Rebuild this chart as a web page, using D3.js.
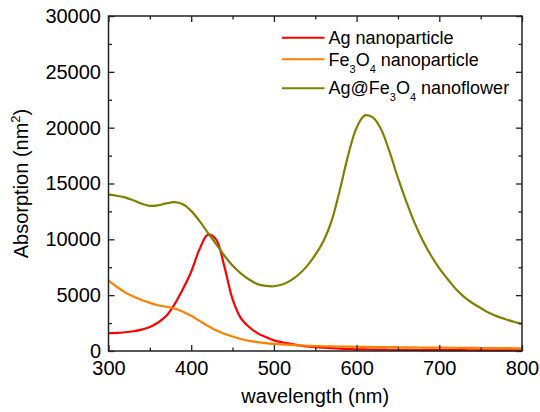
<!DOCTYPE html>
<html>
<head>
<meta charset="utf-8">
<script src="https://cdn.jsdelivr.net/npm/d3@7"></script>
<style>
  body { margin: 0; background: #fff; }
  svg { display: block; font-family: "Liberation Sans", Arial, sans-serif; }
</style>
</head>
<body>
<div id="chart"></div>
<script>
// wavelength grid (nm), 10 nm steps
var wavelength = d3.range(300, 801, 10);

// values (nm^2)
var agValues = [1600, 1620, 1680, 1770, 1920, 2150, 2550, 3150, 4200, 5550,
  7100, 9100, 10400, 10000, 7600, 4650, 2950, 2150, 1600, 1250,
  950, 780, 640, 500, 420, 340, 290, 250, 210, 180,
  150, 140, 130, 120, 110, 100, 95, 90, 85, 80,
  80, 75, 70, 70, 65, 60, 60, 55, 55, 50, 50];
var fe3o4Values = [6300, 5750, 5250, 4870, 4560, 4310, 4100, 3960, 3810, 3520,
  3150, 2700, 2250, 1850, 1550, 1300, 1080, 910, 790, 700,
  630, 580, 550, 510, 470, 440, 420, 410, 400, 390,
  380, 370, 360, 350, 345, 340, 330, 320, 310, 305,
  300, 295, 290, 285, 280, 270, 265, 260, 255, 245, 240];
var flowerValues = [14000, 13900, 13760, 13500, 13200, 13000, 13050, 13220, 13330, 13150,
  12550, 11650, 10600, 9600, 8550, 7650, 6950, 6400, 6000, 5830,
  5800, 5950, 6300, 6850, 7600, 8600, 9850, 11700, 14500, 17600,
  20000, 21100, 20900, 19800, 17800, 15500, 13400, 11500, 9900, 8550,
  7400, 6450, 5550, 4850, 4300, 3850, 3420, 3100, 2850, 2620, 2430];

var seriesNames = ["Ag nanoparticle", "Fe3O4 nanoparticle", "Ag@Fe3O4 nanoflower"];
var seriesColors = ["#ff0000", "#ff8000", "#808000"];

var xTicks = [300, 400, 500, 600, 700, 800];
var yTicks = [0, 5000, 10000, 15000, 20000, 25000, 30000];

function init() {
  var w = 540;
  var h = 412;
  var left = 108.5, right = 522, top = 16, bottom = 351;

  var xScale = d3.scaleLinear().domain([300, 800]).range([left, right]);
  var yScale = d3.scaleLinear().domain([0, 30000]).range([bottom, top]);

  var svg = d3.select("#chart")
    .append("svg")
    .attr("width", w)
    .attr("height", h);

  // curves
  var allValues = [agValues, fe3o4Values, flowerValues];
  var line = d3.line()
    .x(function (d) { return xScale(d.x); })
    .y(function (d) { return yScale(d.y); })
    .curve(d3.curveCatmullRom.alpha(0.5));

  var plot = svg.append("g");
  allValues.forEach(function (vals, i) {
    var pts = wavelength.map(function (x, j) { return { x: x, y: vals[j] }; });
    plot.append("path")
      .datum(pts)
      .attr("fill", "none")
      .attr("stroke", seriesColors[i])
      .attr("stroke-width", 2.2)
      .attr("d", line);
  });

  // minor ticks
  var xMinor = d3.range(350, 800, 100);
  var yMinor = d3.range(2500, 30000, 5000);

  function styleAxis(g) {
    g.selectAll(".domain").remove();
    g.selectAll(".tick line").attr("stroke", "#222").attr("stroke-width", 1.3);
    g.selectAll(".tick text")
      .attr("fill", "#000")
      .style("font-size", "20px");
  }

  // bottom
  svg.append("g")
    .attr("transform", "translate(0," + bottom + ")")
    .call(d3.axisBottom(xScale).tickValues(xTicks).tickSize(-6).tickPadding(10).tickFormat(d3.format("d")))
    .call(styleAxis);
  svg.append("g")
    .attr("transform", "translate(0," + bottom + ")")
    .call(d3.axisBottom(xScale).tickValues(xMinor).tickSize(-3.5).tickFormat(""))
    .call(styleAxis);
  // top
  svg.append("g")
    .attr("transform", "translate(0," + top + ")")
    .call(d3.axisTop(xScale).tickValues(xTicks).tickSize(-6).tickFormat(""))
    .call(styleAxis);
  svg.append("g")
    .attr("transform", "translate(0," + top + ")")
    .call(d3.axisTop(xScale).tickValues(xMinor).tickSize(-3.5).tickFormat(""))
    .call(styleAxis);
  // left
  svg.append("g")
    .attr("transform", "translate(" + left + ",0)")
    .call(d3.axisLeft(yScale).tickValues(yTicks).tickSize(-6).tickPadding(7.5).tickFormat(d3.format("d")))
    .call(styleAxis);
  svg.append("g")
    .attr("transform", "translate(" + left + ",0)")
    .call(d3.axisLeft(yScale).tickValues(yMinor).tickSize(-3.5).tickFormat(""))
    .call(styleAxis);
  // right
  svg.append("g")
    .attr("transform", "translate(" + right + ",0)")
    .call(d3.axisRight(yScale).tickValues(yTicks).tickSize(-6).tickFormat(""))
    .call(styleAxis);
  svg.append("g")
    .attr("transform", "translate(" + right + ",0)")
    .call(d3.axisRight(yScale).tickValues(yMinor).tickSize(-3.5).tickFormat(""))
    .call(styleAxis);

  // frame
  svg.append("rect")
    .attr("x", left)
    .attr("y", top)
    .attr("width", right - left)
    .attr("height", bottom - top)
    .attr("fill", "none")
    .attr("stroke", "#222")
    .attr("stroke-width", 1.5);

  // axis titles
  svg.append("text")
    .attr("x", (left + right) / 2)
    .attr("y", 403)
    .attr("text-anchor", "middle")
    .style("font-size", "20px")
    .text("wavelength (nm)");

  var yt = svg.append("text")
    .attr("transform", "translate(28," + ((top + bottom) / 2) + ") rotate(-90)")
    .attr("text-anchor", "middle")
    .style("font-size", "20px");
  yt.append("tspan").text("Absorption (nm");
  yt.append("tspan").attr("dy", -8).style("font-size", "13px").text("2");
  yt.append("tspan").attr("dy", 8).text(")");

  // legend
  var legendLineY = [37.7, 59.3, 88.3];
  var legendTextY = [44.3, 66, 94.3];
  seriesNames.forEach(function (name, i) {
    svg.append("line")
      .attr("x1", 282)
      .attr("x2", 324.5)
      .attr("y1", legendLineY[i])
      .attr("y2", legendLineY[i])
      .attr("stroke", seriesColors[i])
      .attr("stroke-width", 2);
    var t = svg.append("text")
      .attr("x", 328.5)
      .attr("y", legendTextY[i])
      .style("font-size", "18px");
    // digits become subscripts
    var parts = name.match(/(\d+|\D+)/g);
    var shifted = false;
    parts.forEach(function (p) {
      var isSub = /^\d+$/.test(p);
      var ts = t.append("tspan").text(p);
      if (isSub) {
        ts.style("font-size", "11px").attr("dy", shifted ? 0 : 7);
        shifted = true;
      } else if (shifted) {
        ts.attr("dy", -7);
        shifted = false;
      }
    });
  });
}

window.onload = init;
</script>
</body>
</html>
